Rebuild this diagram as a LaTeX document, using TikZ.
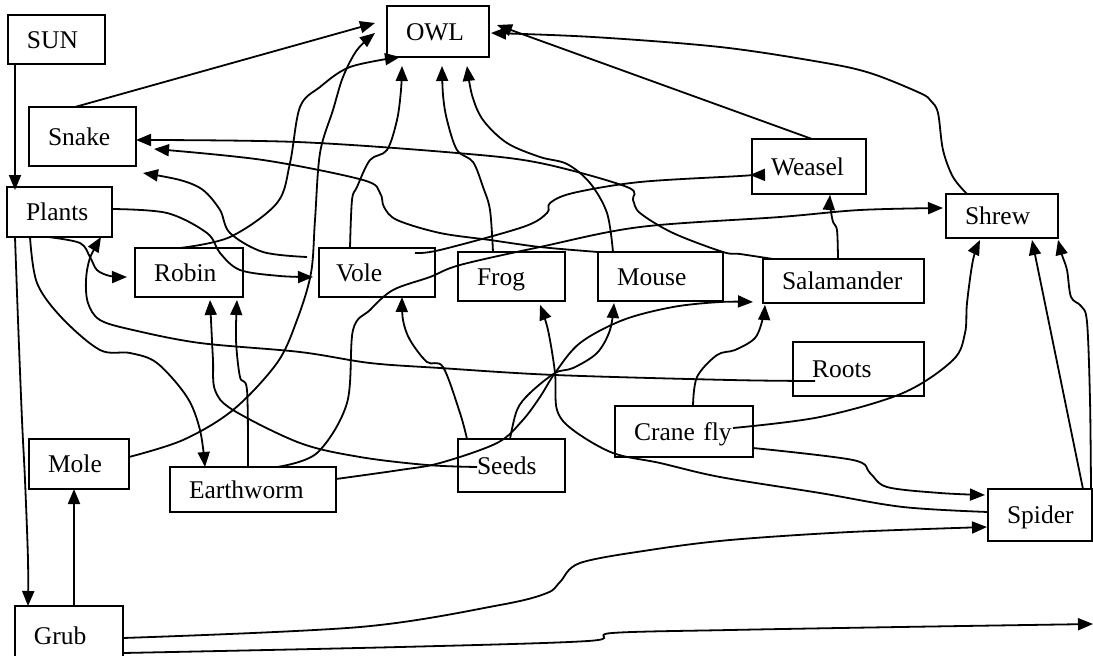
\documentclass[tikz,border=0pt]{standalone}
\usepackage{fontspec}
\setmainfont{Liberation Serif}
\usetikzlibrary{arrows.meta,calc}
\tikzset{
  box/.style={draw, line width=1.2pt, rectangle, anchor=north west, inner xsep=19pt, inner ysep=0pt, outer sep=0pt, align=left, text height=20pt, text depth=3pt, font=\fontsize{25.5}{28}\selectfont},
  conn/.style={line width=1.8pt, -{Triangle[length=15pt,width=12pt]}},
  sm/.style={smooth, tension=0.55}
}
\begin{document}
\begin{tikzpicture}[x=1pt,y=-1pt]
\useasboundingbox (0,0) rectangle (1093,656);
% nodes
\node[box, text width=59pt, minimum height=49pt] (sun) at (8,15) {SUN};
\node[box, text width=69pt, minimum height=59pt] (snake) at (29,107) {Snake};
\node[box, text width=67pt, minimum height=50pt] (plants) at (7,187) {Plants};
\node[box, text width=70pt, minimum height=49pt] (robin) at (135,248) {Robin};
\node[box, text width=82pt, minimum height=49pt, inner xsep=17pt] (vole) at (319,248) {Vole};
\node[box, text width=64pt, minimum height=51pt] (owl) at (387,6) {OWL};
\node[box, text width=69pt, minimum height=49pt] (frog) at (458,252) {Frog};
\node[box, text width=87pt, minimum height=49pt] (mouse) at (598,252) {Mouse};
\node[box, text width=76pt, minimum height=55pt] (weasel) at (752,139) {Weasel};
\node[box, text width=74pt, minimum height=44pt] (shrew) at (946,194) {Shrew};
\node[box, text width=123pt, minimum height=44pt] (salamander) at (763,259) {Salamander};
\node[box, text width=93pt, minimum height=54pt] (roots) at (793,342) {Roots};
\node[box, text width=100pt, minimum height=51pt] (crane) at (615,406) {Crane fly};
\node[box, text width=62pt, minimum height=50pt] (mole) at (29,439) {Mole};
\node[box, text width=128pt, minimum height=45pt] (earthworm) at (170,467) {Earthworm};
\node[box, text width=69pt, minimum height=53pt] (seeds) at (458,439) {Seeds};
\node[box, text width=66pt, minimum height=52pt] (spider) at (988,489) {Spider};
\node[box, text width=70pt, minimum height=60pt] (grub) at (15,606) {Grub};
\coordinate (offR) at (1093,624);
% connectors
\draw[conn] (sun.south -| 15,0) -- ($(plants.north -| 15,0)+(0,3)$);
\draw[conn] (snake.north -| 75,0) -- ($(owl.west |- 0,23)+(-12,0)$);
\draw[conn] plot[sm] coordinates {(mole.east |- 0,457) (183,440) (233,410) (277,363) (297,320) (311,273) (315,220) (320,153) (333,110) (343,77) (357,50) ($(owl.west |- 0,33)+(-12,0)$)};
\draw[conn] plot[sm] coordinates {(robin.north -| 180,0) (230,237) (277,203) (290,163) (300,107) (320,87) (350,67) (owl.south -| 400,0)};
\draw[conn] plot[sm] coordinates {(vole.north -| 350,0) (352,200) (357,187) (370,160) (387,150) (397,120) (401,90) ($(owl.south -| 402,0)+(0,9)$)};
\draw[conn] plot[sm] coordinates {(frog.north -| 493,0) (490,210) (483,187) (473,162) (457,150) (447,120) (443,95) ($(owl.south -| 442,0)+(0,9)$)};
\draw[conn] plot[sm] coordinates {(mouse.north -| 613,0) (607,213) (590,183) (567,164) (540,157) (507,143) (483,120) (472,95) ($(owl.south -| 467,0)+(0,9)$)};
\draw[conn] (weasel.north -| 812,0) -- ($(owl.east |- 0,25)+(8,0)$);
\draw[conn] plot[sm] coordinates {(shrew.north -| 967,0) (953,177) (943,150) (938,113) (931,101) (920,93) (870,73) (820,62) (720,47) (593,37) ($(owl.east |- 0,33)+(2,0)$)};
\draw[conn] plot[sm] coordinates {(salamander.north -| 773,0) (740,254) (723,252) (673,233) (640,213) (633,200) (627,187) (540,163) (457,153) (297,142) (snake.east |- 0,140)};
\draw[conn] plot[sm] coordinates {(mouse.north west) (540,247) (490,240) (440,233) (397,220) (384,207) (380,193) (363,180) (263,160) ($(snake.east |- 0,149)+(18,0)$)};
\draw[conn] plot[sm] coordinates {($(vole.west |- 0,257)+(-12,0)$) (263,252) (230,233) (220,210) (203,190) (180,180) ($(snake.south east)+(7,7)$)};
\draw[conn] plot[sm] coordinates {(plants.east |- 0,209) (167,213) (207,233) (220,253) (240,270) (280,276) ($(vole.west |- 0,277)+(-6,0)$)};
\draw[conn] plot[sm] coordinates {(plants.south -| 48,0) (80,243) (90,257) (97,270) (110,276) ($(robin.west |- 0,277)+(-8,0)$)};
\draw[conn] plot[sm] coordinates {($(roots.west |- 0,381)+(22,0)$) (730,380) (555,375) (440,368) (370,363) (300,352) (200,343) (133,330) (100,320) (88,303) (86,280) (90,258) (plants.south -| 101,0)};
\draw[conn] plot[sm] coordinates {(plants.south -| 15,0) (18,320) (22,420) (25,480) (28,560) (grub.north -| 28,0)};
\draw[conn] plot[sm] coordinates {(plants.south -| 30,0) (37,283) (62,318) (100,350) (130,353) (157,363) (187,397) (200,430) (earthworm.north -| 205,0)};
\draw[conn] (grub.north -| 74,0) -- (mole.south -| 74,0);
\draw[conn] plot[sm] coordinates {(grub.east |- 0,638) (360,627) (500,605) (547,593) (560,582) (580,563) (650,550) (730,540) (850,532) ($(spider.west |- 0,527)+(-1,0)$)};
\draw[conn] plot[sm] coordinates {(grub.east |- 0,653) (400,647) (588,641) (612,633) (730,630) (900,627) (offR)};
\draw[conn] plot[sm] coordinates {(earthworm.north -| 248,0) (247,390) (240,377) (236,340) ($(robin.south -| 237,0)+(0,3)$)};
\draw[conn] plot[sm] coordinates {($(seeds.west |- 0,467)+(19,0)$) (427,465) (360,457) (300,443) (233,410) (215,390) (213,360) (211,320) ($(robin.south -| 210,0)+(0,3)$)};
\draw[conn] plot[sm] coordinates {(seeds.north -| 467,0) (460,413) (443,367) (427,362) (410,340) (403,320) (vole.south -| 402,0)};
\draw[conn] plot[sm] coordinates {(seeds.north -| 510,0) (517,410) (530,393) (555,373) (573,368) (597,353) (610,330) ($(mouse.south -| 614,0)+(0,2)$)};
\draw[conn] plot[sm] coordinates {(earthworm.east |- 0,479) (400,470) (440,463) (497,443) (522,421) (540,397) (555,373) (580,343) (623,320) (673,307) (720,302) ($(salamander.west |- 0,302)+(-10,0)$)};
\draw[conn] plot[sm] coordinates {(earthworm.north -| 277,0) (317,453) (347,403) (353,330) (370,310) (393,290) (430,277) (460,265) (540,247) (640,227) (780,217) (860,210) ($(shrew.west |- 0,208)+(-3,0)$)};
\draw[conn] plot[sm] coordinates {($(vole.north -| 415,0)+(0,5)$) (440,250) (523,227) (547,213) (550,203) (573,193) (640,182) (740,176) ($(weasel.west |- 0,175)+(-2,0)$)};
\draw[conn] plot[sm] coordinates {(salamander.north -| 838,0) (837,230) (833,222) (830,205) ($(weasel.south -| 830,0)+(0,1)$)};
\draw[conn] plot[sm] coordinates {(crane.north -| 693,0) (697,377) (717,355) (735,350) (755,338) (763,318) ($(salamander.south -| 765,0)+(0,2)$)};
\draw[conn] plot[sm] coordinates {($(crane.east |- 0,428)+(-20,0)$) (820,417) (903,393) (953,360) (965,333) (967,303) (973,260) ($(shrew.south -| 980,0)+(0,2)$)};
\draw[conn] plot[sm] coordinates {(crane.east |- 0,448) (853,460) (870,473) (887,487) (940,493) ($(spider.west |- 0,495)+(-3,0)$)};
\draw[conn] plot[sm] coordinates {(spider.west |- 0,512) (903,507) (820,493) (720,477) (660,463) (613,453) (573,430) (557,410) (555,373) (548,330) ($(frog.south -| 540,0)+(0,4)$)};
\draw[conn] (spider.north -| 1083,0) -- ($(shrew.south -| 1032,0)+(0,2)$);
\draw[conn] plot[sm] coordinates {(spider.north -| 1091,0) (1090,400) (1087,322) (1081,306) (1071,297) (1067,270) (1062,255) ($(shrew.south -| 1058,0)+(0,2)$)};
\end{tikzpicture}
\end{document}
